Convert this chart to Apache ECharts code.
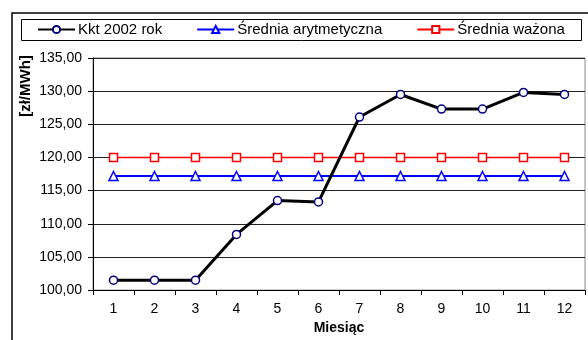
<!DOCTYPE html>
<html>
<head>
<meta charset="utf-8">
<script src="https://cdn.jsdelivr.net/npm/echarts@6/dist/echarts.min.js"></script>
<style>
html,body{margin:0;padding:0;background:#fff;}
#chart{width:588px;height:340px;}
</style>
</head>
<body>
<div id="chart"></div>
<script>
var months = ['1','2','3','4','5','6','7','8','9','10','11','12'];
var kkt2002 = [101.5, 101.5, 101.5, 108.4, 113.5, 113.3, 126.1, 129.5, 127.3, 127.3, 129.8, 129.5];
var sredniaArytmetyczna = [117.2, 117.2, 117.2, 117.2, 117.2, 117.2, 117.2, 117.2, 117.2, 117.2, 117.2, 117.2];
var sredniaWazona = [120.0, 120.0, 120.0, 120.0, 120.0, 120.0, 120.0, 120.0, 120.0, 120.0, 120.0, 120.0];
var seriesNames = ['Kkt 2002 rok', 'Średnia arytmetyczna', 'Średnia ważona'];
var yMin = 100, yMax = 135, yStep = 5;
var yAxisTitle = '[zł/MWh]';
var xAxisTitle = 'Miesiąc';

var font = 'Arial, "Liberation Sans", sans-serif';
var chart = echarts.init(document.getElementById('chart'), null, {renderer: 'canvas'});
chart.setOption({
  animation: false,
  backgroundColor: '#fff',
  textStyle: {fontFamily: font, color: '#000'},
  graphic: [
    {type: 'rect', shape: {x: 12, y: 13, width: 600, height: 360}, style: {fill: 'none', stroke: '#000', lineWidth: 1.5}, z: -10},
    {type: 'rect', shape: {x: 21.5, y: 19.5, width: 560, height: 21}, style: {fill: 'none', stroke: '#000', lineWidth: 1}, z: -10},
    {type: 'text', x: 26, y: 86, rotation: Math.PI / 2,
     style: {text: yAxisTitle, font: 'bold 15px ' + font, fill: '#000', align: 'center', verticalAlign: 'middle'}}
  ],
  legend: {
    left: 37, top: 22, padding: 0,
    itemWidth: 37, itemHeight: 9, itemGap: 34,
    textStyle: {fontSize: 15, color: '#000', fontFamily: font, padding: [0, 0, 0, -2]},
    data: seriesNames
  },
  grid: {left: 93, right: 3, top: 58, bottom: 49, show: true, borderColor: '#888', borderWidth: 1},
  xAxis: {
    type: 'category', data: months, boundaryGap: true,
    name: xAxisTitle, nameLocation: 'middle', nameGap: 29,
    nameTextStyle: {fontWeight: 'bold', fontSize: 14, color: '#000', fontFamily: font},
    axisLine: {lineStyle: {color: '#000', width: 1}},
    axisTick: {show: true, length: 5, lineStyle: {color: '#000'}},
    axisLabel: {fontSize: 14, color: '#000', margin: 12, fontFamily: font},
    splitLine: {show: false}
  },
  yAxis: {
    type: 'value', min: yMin, max: yMax, interval: yStep,
    axisLine: {show: true, lineStyle: {color: '#000', width: 1}},
    axisTick: {show: true, length: 5, lineStyle: {color: '#000'}},
    axisLabel: {fontSize: 14, color: '#000', margin: 11, fontFamily: font,
      formatter: function (v) { return v.toFixed(2).replace('.', ','); }},
    splitLine: {show: true, lineStyle: {color: '#222', width: 1}}
  },
  series: [
    {name: seriesNames[0], type: 'line', data: kkt2002, z: 5,
     lineStyle: {color: '#000', width: 3}, itemStyle: {color: '#fff', borderColor: '#000080', borderWidth: 1.5},
     symbol: 'circle', symbolSize: 8, color: '#000'},
    {name: seriesNames[1], type: 'line', data: sredniaArytmetyczna, z: 4,
     lineStyle: {color: '#0000ff', width: 2}, itemStyle: {color: '#fff', borderColor: '#0000ff', borderWidth: 1.5},
     symbol: 'triangle', symbolSize: 9, color: '#0000ff'},
    {name: seriesNames[2], type: 'line', data: sredniaWazona, z: 3,
     lineStyle: {color: '#ff0000', width: 1.5}, itemStyle: {color: '#fff', borderColor: '#ff0000', borderWidth: 1.5},
     symbol: 'rect', symbolSize: 8, color: '#ff0000'}
  ]
});
</script>
</body>
</html>
